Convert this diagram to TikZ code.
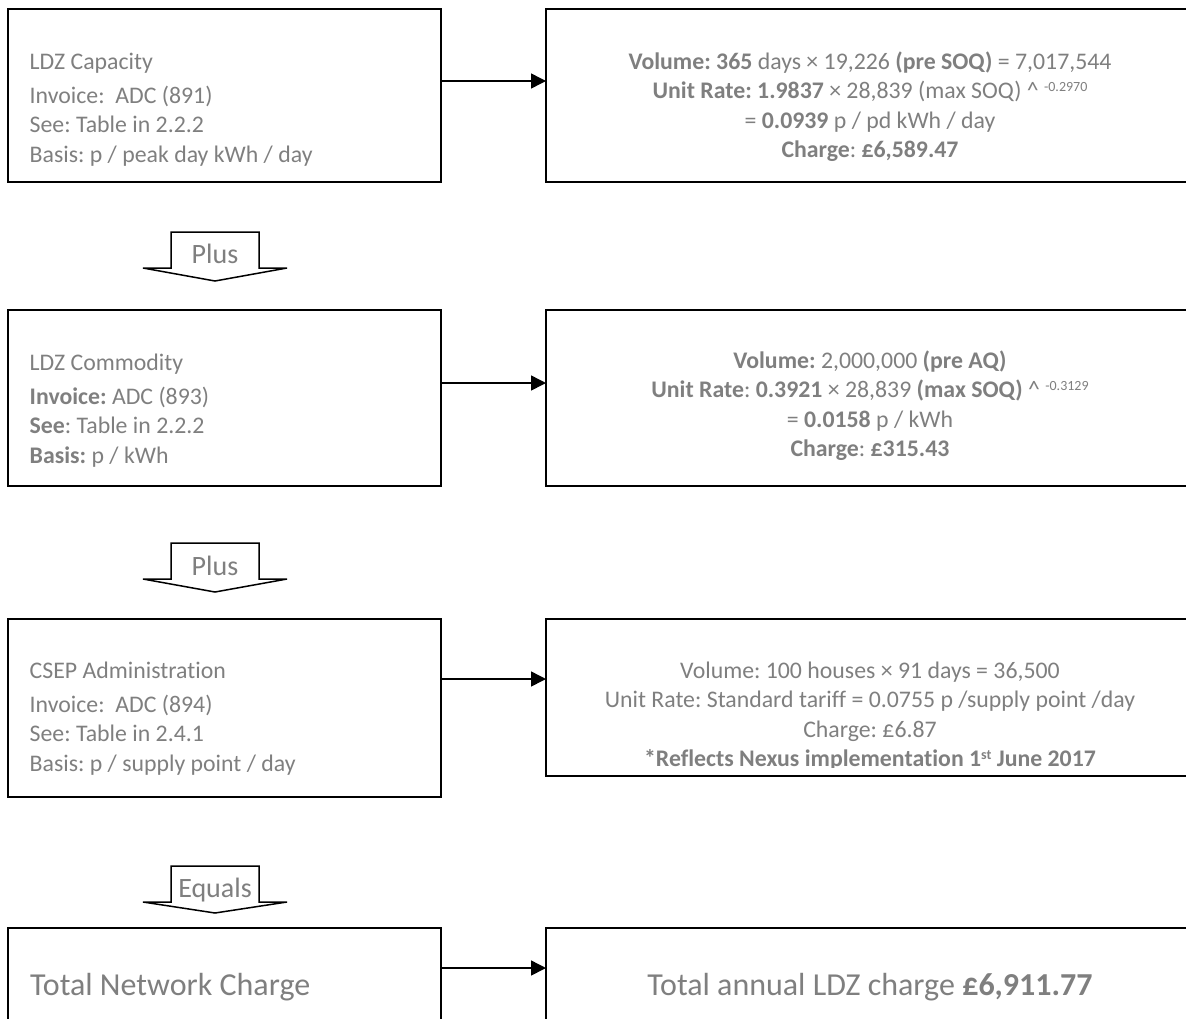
\documentclass[tikz,border=0pt]{standalone}
\usepackage{fontspec}
\setmainfont{Carlito}[Ligatures=NoCommon]
\usetikzlibrary{arrows.meta,calc}
\definecolor{txtgray}{HTML}{7F7F7F}
\newcommand\fsz[2]{\fontsize{#1}{#2}\selectfont}
\newcommand\supr[1]{\raisebox{7pt}{\fsz{14}{14}\selectfont #1}}
\frenchspacing
\begin{document}
\begin{tikzpicture}[x=1pt,y=-1pt,
  box/.style={draw, line width=1.5pt, inner sep=0pt, outer sep=0pt, anchor=north west},
  conn/.style={line width=1.5pt, -{Triangle[length=15pt,width=15pt]}},
  txt/.style={text=txtgray, inner sep=0pt, font=\fsz{23.8}{29.5}},
  barrow/.style={draw, line width=1.5pt, fill=white, line join=miter},
  btxt/.style={text=txtgray, inner sep=0pt, font=\fsz{28}{28}, anchor=base}]
\useasboundingbox (0,0) rectangle (1186,1018);
\clip (0,0) rectangle (1186,1018);
% boxes
\node[box, minimum width=433pt, minimum height=173pt] (cap) at (8,9) {};
\node[box, minimum width=647pt, minimum height=173pt] (capr) at (546,9) {};
\node[box, minimum width=433pt, minimum height=176pt] (com) at (8,310) {};
\node[box, minimum width=647pt, minimum height=176pt] (comr) at (546,310) {};
\node[box, minimum width=433pt, minimum height=178pt] (csep) at (8,619) {};
\node[box, minimum width=647pt, minimum height=157pt] (csepr) at (546,619) {};
\node[box, minimum width=433pt, minimum height=150pt] (tot) at (8,928) {};
\node[box, minimum width=647pt, minimum height=150pt] (totr) at (546,928) {};
% connectors
\draw[conn] ($(cap.north east)+(0,72)$) coordinate (c1) -- (c1 -| capr.west);
\draw[conn] ($(com.north east)+(0,73)$) coordinate (c2) -- (c2 -| comr.west);
\draw[conn] ($(csep.north east)+(0,60)$) coordinate (c3) -- (c3 -| csepr.west);
\draw[conn] ($(tot.north east)+(0,40)$) coordinate (c4) -- (c4 -| totr.west);
% block arrows
\draw[barrow] (171,232) -- (259,232) -- (259,268) -- (287,268) -- (215,281) -- (143,268) -- (171,268) -- cycle;
\node[btxt] (plus1) at (215,263.5) {Plus};
\draw[barrow] (171,543) -- (259,543) -- (259,579) -- (287,579) -- (215,592) -- (143,579) -- (171,579) -- cycle;
\node[btxt] (plus2) at (215,575) {Plus};
\draw[barrow] (171,866) -- (259,866) -- (259,902) -- (287,902) -- (215,913) -- (143,902) -- (171,902) -- cycle;
\node[btxt] (equals) at (215,897) {Equals};
% left texts
\node[txt, anchor=base west] (capt) at ($(cap.north west)+(21.5,60)$) {\begin{tabular}[t]{@{}l@{}}LDZ Capacity\\[4.5pt]Invoice:\ \ ADC (891)\\See: Table in 2.2.2\\Basis: p / peak day kWh / day\end{tabular}};
\node[txt, anchor=base west] (comt) at ($(com.north west)+(21.5,60)$) {\begin{tabular}[t]{@{}l@{}}LDZ Commodity\\[4.5pt]\textbf{Invoice:} ADC (893)\\\textbf{See}: Table in 2.2.2\\\textbf{Basis:} p / kWh\end{tabular}};
\node[txt, anchor=base west] (csept) at ($(csep.north west)+(21.5,59)$) {\begin{tabular}[t]{@{}l@{}}CSEP Administration\\[4.5pt]Invoice:\ \ ADC (894)\\See: Table in 2.4.1\\Basis: p / supply point / day\end{tabular}};
\node[txt, anchor=base west, font=\fsz{32}{32}] (tott) at ($(tot.north west)+(22,67)$) {Total Network Charge};
% right texts
\node[txt, anchor=base] (capv) at ($(capr.north west)+(324,60)$) {\begin{tabular}[t]{@{}c@{}}\textbf{Volume: 365} days × 19,226 \textbf{(pre SOQ)} = 7,017,544\\\textbf{Unit Rate: 1.9837} × 28,839 (max SOQ) \textasciicircum{} \supr{-0.2970}\\= \textbf{0.0939} p / pd kWh / day\\\textbf{Charge}: \textbf{£6,589.47}\end{tabular}};
\node[txt, anchor=base] (comv) at ($(comr.north west)+(324,58)$) {\begin{tabular}[t]{@{}c@{}}\textbf{Volume:} 2,000,000 \textbf{(pre AQ)}\\\textbf{Unit Rate}: \textbf{0.3921} × 28,839 \textbf{(max SOQ)} \textasciicircum{} \supr{-0.3129}\\= \textbf{0.0158} p / kWh\\\textbf{Charge}: \textbf{£315.43}\end{tabular}};
\begin{scope}
\clip (546,619) rectangle (1190,767);
\node[txt, anchor=base] (csepv) at ($(csepr.north west)+(324,59)$) {\begin{tabular}[t]{@{}c@{}}Volume: 100 houses × 91 days = 36,500\\Unit Rate: Standard tariff = 0.0755 p /supply point /day\\Charge: £6.87\\\textbf{*Reflects Nexus implementation 1\supr{st} June 2017}\end{tabular}};
\end{scope}
\node[txt, anchor=base, font=\fsz{32}{32}] (totv) at ($(totr.north west)+(324,67)$) {Total annual LDZ charge \textbf{£6,911.77}};
\end{tikzpicture}
\end{document}
